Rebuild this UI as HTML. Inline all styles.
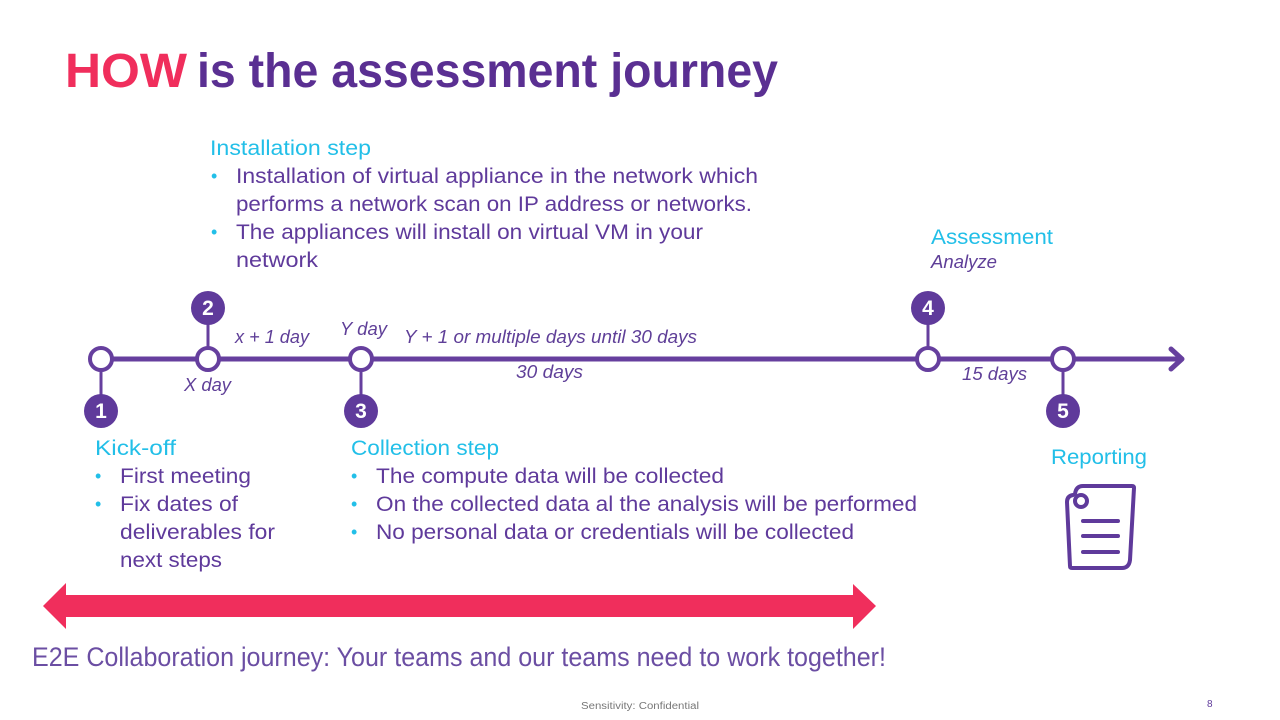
<!DOCTYPE html>
<html lang="en">
<head>
<meta charset="utf-8">
<title>HOW is the assessment journey</title>
<style>
html,body{margin:0;padding:0;background:#fff;}
svg{display:block;}
text{font-family:"Liberation Sans",sans-serif;}
.h{font-size:21px;fill:#22bfe8;}
.b{font-size:21px;fill:#5f3a9b;}
.d{font-size:18px;fill:#22bfe8;}
.i{font-size:18px;font-style:italic;fill:#5f3f98;}
.n{font-size:21px;font-weight:bold;fill:#fff;text-anchor:middle;}
</style>
</head>
<body>
<svg width="1280" height="720" viewBox="0 0 1280 720" xmlns="http://www.w3.org/2000/svg">
<rect width="1280" height="720" fill="#fff"/>
<text x="65" y="87" font-size="48" font-weight="bold" fill="#f02e5c" textLength="122" lengthAdjust="spacingAndGlyphs">HOW</text>
<text x="197" y="87" font-size="48" font-weight="bold" fill="#5a2f92" textLength="581" lengthAdjust="spacingAndGlyphs">is the assessment journey</text>

<text class="h" x="210" y="155" textLength="161" lengthAdjust="spacingAndGlyphs">Installation step</text>
<text class="d" x="211" y="182">•</text>
<text class="b" x="236" y="183" textLength="522" lengthAdjust="spacingAndGlyphs">Installation of virtual appliance in the network which</text>
<text class="b" x="236" y="211" textLength="516" lengthAdjust="spacingAndGlyphs">performs a network scan on IP address or networks.</text>
<text class="d" x="211" y="238">•</text>
<text class="b" x="236" y="239" textLength="467" lengthAdjust="spacingAndGlyphs">The appliances will install on virtual VM in your</text>
<text class="b" x="236" y="267" textLength="82" lengthAdjust="spacingAndGlyphs">network</text>

<text class="h" x="931" y="244" font-size="22" textLength="122" lengthAdjust="spacingAndGlyphs">Assessment</text>
<text class="i" x="931" y="268" textLength="66" lengthAdjust="spacingAndGlyphs">Analyze</text>

<g stroke="#663f9e" fill="none">
<line x1="101" y1="359" x2="1181" y2="359" stroke-width="5"/>
<polyline points="1171,349 1182,359 1171,369" stroke-width="5" stroke-linecap="round" stroke-linejoin="round"/>
<line x1="101" y1="359" x2="101" y2="411" stroke-width="3"/>
<line x1="208" y1="308" x2="208" y2="359" stroke-width="3"/>
<line x1="361" y1="359" x2="361" y2="411" stroke-width="3"/>
<line x1="928" y1="308" x2="928" y2="359" stroke-width="3"/>
<line x1="1063" y1="359" x2="1063" y2="411" stroke-width="3"/>
</g>
<g fill="#fff" stroke="#663f9e" stroke-width="4">
<circle cx="101" cy="359" r="11"/>
<circle cx="208" cy="359" r="11"/>
<circle cx="361" cy="359" r="11"/>
<circle cx="928" cy="359" r="11"/>
<circle cx="1063" cy="359" r="11"/>
</g>
<g fill="#5f3a9b">
<circle cx="101" cy="411" r="17"/>
<circle cx="208" cy="308" r="17"/>
<circle cx="361" cy="411" r="17"/>
<circle cx="928" cy="308" r="17"/>
<circle cx="1063" cy="411" r="17"/>
</g>
<text class="n" x="101" y="418">1</text>
<text class="n" x="208" y="315">2</text>
<text class="n" x="361" y="418">3</text>
<text class="n" x="928" y="315">4</text>
<text class="n" x="1063" y="418">5</text>

<text class="i" x="235" y="343" textLength="74" lengthAdjust="spacingAndGlyphs">x + 1 day</text>
<text class="i" x="340" y="335" textLength="47" lengthAdjust="spacingAndGlyphs">Y day</text>
<text class="i" x="404" y="343" textLength="293" lengthAdjust="spacingAndGlyphs">Y + 1 or multiple days until 30 days</text>
<text class="i" x="184" y="391" textLength="47" lengthAdjust="spacingAndGlyphs">X day</text>
<text class="i" x="516" y="378" textLength="67" lengthAdjust="spacingAndGlyphs">30 days</text>
<text class="i" x="962" y="380" textLength="65" lengthAdjust="spacingAndGlyphs">15 days</text>

<text class="h" x="95" y="455" textLength="81" lengthAdjust="spacingAndGlyphs">Kick-off</text>
<text class="d" x="95" y="482">•</text>
<text class="b" x="120" y="483" textLength="131" lengthAdjust="spacingAndGlyphs">First meeting</text>
<text class="d" x="95" y="510">•</text>
<text class="b" x="120" y="511" textLength="118" lengthAdjust="spacingAndGlyphs">Fix dates of</text>
<text class="b" x="120" y="539" textLength="155" lengthAdjust="spacingAndGlyphs">deliverables for</text>
<text class="b" x="120" y="567" textLength="102" lengthAdjust="spacingAndGlyphs">next steps</text>

<text class="h" x="351" y="455" textLength="148" lengthAdjust="spacingAndGlyphs">Collection step</text>
<text class="d" x="351" y="482">•</text>
<text class="b" x="376" y="483" textLength="348" lengthAdjust="spacingAndGlyphs">The compute data will be collected</text>
<text class="d" x="351" y="510">•</text>
<text class="b" x="376" y="511" textLength="541" lengthAdjust="spacingAndGlyphs">On the collected data al the analysis will be performed</text>
<text class="d" x="351" y="538">•</text>
<text class="b" x="376" y="539" textLength="478" lengthAdjust="spacingAndGlyphs">No personal data or credentials will be collected</text>

<text class="h" x="1051" y="464" textLength="96" lengthAdjust="spacingAndGlyphs">Reporting</text>

<g fill="none" stroke="#5f3a9b" stroke-width="4" stroke-linecap="round" stroke-linejoin="round">
<path d="M1075,494 Q1076,486 1083,486 L1132,486 Q1134,486 1134,488 L1130,560 Q1129,568 1122,568 L1072,568 Q1070,568 1070,566 L1067,502 Q1067,496 1073,495"/>
<circle cx="1081" cy="501" r="6"/>
<line x1="1083" y1="521" x2="1118" y2="521"/>
<line x1="1083" y1="536" x2="1118" y2="536"/>
<line x1="1083" y1="552" x2="1118" y2="552"/>
</g>

<polygon points="43,606 66,583 66,595 853,595 853,584 876,606 853,629 853,617 66,617 66,629" fill="#f02e5c"/>

<text x="32" y="666" font-size="27" fill="#6b4ea3" textLength="854" lengthAdjust="spacingAndGlyphs">E2E Collaboration journey: Your teams and our teams need to work together!</text>

<text x="581" y="709" font-size="10" fill="#777" textLength="118" lengthAdjust="spacingAndGlyphs">Sensitivity: Confidential</text>
<text x="1207" y="707" font-size="10" fill="#5f3a9b">8</text>
</svg>
</body>
</html>
